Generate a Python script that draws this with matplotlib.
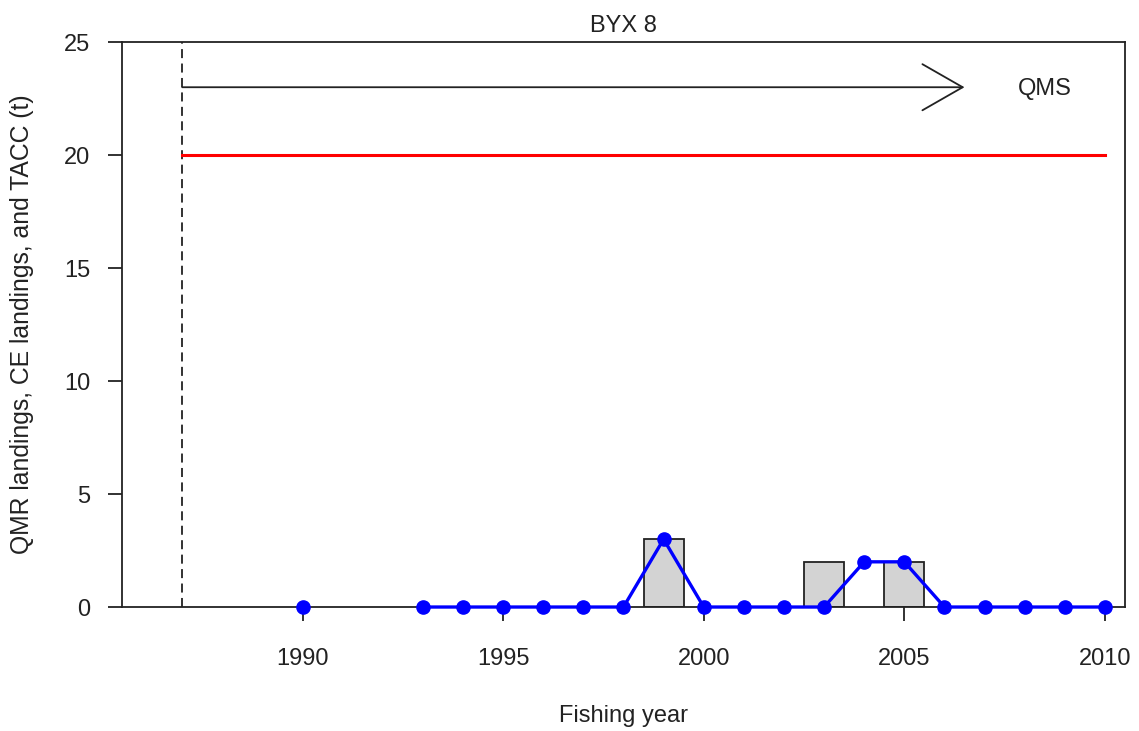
import matplotlib
matplotlib.use("Agg")
import matplotlib.pyplot as plt
import numpy as np

plt.rcParams['font.family'] = ['Liberation Sans', 'DejaVu Sans']

title = "BYX 8"
xlabel = "Fishing year"
ylabel = "QMR landings, CE landings, and TACC (t)"

# QMR landings (bars)
bar_years = [1999, 2003, 2005]
bar_values = [3, 2, 2]

# CE landings (blue line, two segments)
ce_years_a = [1990]
ce_values_a = [0]
ce_years_b = [1993, 1994, 1995, 1996, 1997, 1998, 1999, 2000, 2001, 2002,
              2003, 2004, 2005, 2006, 2007, 2008, 2009, 2010]
ce_values_b = [0, 0, 0, 0, 0, 0, 3, 0, 0, 0, 0, 2, 2, 0, 0, 0, 0, 0]

# TACC
tacc_years = [1987, 2010]
tacc_values = [20, 20]

qms_year = 1987
xticks = [1990, 1995, 2000, 2005, 2010]
yticks = [0, 5, 10, 15, 20, 25]

fig = plt.figure(figsize=(11.39, 7.31), dpi=100)
ax = fig.add_axes([0.1071, 0.1696, 0.8806, 0.7729])

ax.bar(bar_years, bar_values, width=1.0, color='#d3d3d3', edgecolor='#222222',
       linewidth=1.3, zorder=2)
ax.plot(tacc_years, tacc_values, color='red', lw=2.2, zorder=3)
ax.plot(ce_years_a, ce_values_a, color='blue', lw=2.4, marker='o', ms=9.5, zorder=4, clip_on=False)
ax.plot(ce_years_b, ce_values_b, color='blue', lw=2.4, marker='o', ms=9.5, zorder=4, clip_on=False)

ax.axvline(qms_year, color='#222222', lw=1.3, ls=(0, (5, 3)), zorder=1)
ax.annotate("", xy=(2006.5, 23), xytext=(qms_year, 23),
            arrowprops=dict(arrowstyle='->,head_length=1.45,head_width=0.83',
                            lw=1.3, color='#222222', mutation_scale=20,
                            shrinkA=0, shrinkB=0))
ax.text(2008.5, 22.9, "QMS", fontsize=17, ha='center', va='center', color='#222222')

ax.set_xlim(1985.5, 2010.5)
ax.set_ylim(0, 25)
ax.set_xticks(xticks)
ax.set_yticks(yticks)
ax.tick_params(axis='both', length=10, width=1.3, labelsize=17, colors='#222222')
ax.tick_params(axis='x', pad=19.3)
ax.tick_params(axis='y', pad=13)
for s in ax.spines.values():
    s.set_linewidth(1.3)
    s.set_color('#222222')

ax.set_title(title, fontsize=17, pad=7.3, color='#222222')
ax.set_xlabel(xlabel, fontsize=17, labelpad=25.5, color='#222222')
ax.set_ylabel(ylabel, fontsize=17.85, labelpad=21.5, color='#222222')

fig.savefig("out.png", dpi=100)
